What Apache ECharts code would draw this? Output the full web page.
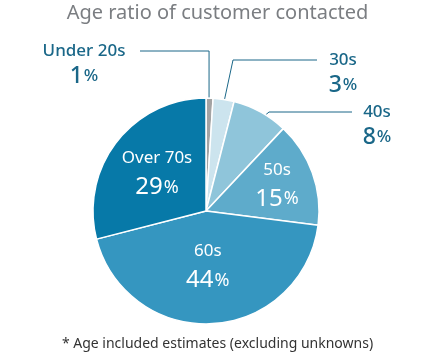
<!DOCTYPE html>
<html>
<head>
<meta charset="utf-8">
<script src="https://cdn.jsdelivr.net/npm/echarts@6/dist/echarts.min.js"></script>
<style>
  html, body { margin: 0; padding: 0; background: #fff; }
  #chart { width: 435px; height: 354px; }
</style>
</head>
<body>
<div id="chart"></div>
<script>
// data
const categories = ['Under 20s', '30s', '40s', '50s', '60s', 'Over 70s'];
const shares = [1, 3, 8, 15, 44, 29];
const sliceColors = ['#a3a3a3', '#cce4ee', '#8fc5da', '#5eabcb', '#3596c0', '#0779a8'];
const outsideIdx = [0, 1, 2];

// pie geometry (px)
const CX = 206, CY = 211, R = 113;
const FONT = '"Noto Sans", sans-serif';
const DARK = '#1a6788';

// where the outside labels sit: text centre x, leader line y, line end x, knee x
const outsidePos = {
  0: { x: 84,  lineY: 51,  endX: 140, kneeX: null },
  1: { x: 343, lineY: 60,  endX: 317, kneeX: 233 },
  2: { x: 377, lineY: 112, endX: 352, kneeX: 269 }
};
// small nudges for the inside labels
const insideShift = {
  '50s': [15, -7],
  '60s': [-2, -5],
  'Over 70s': [-2, -2]
};

const total = shares.reduce((s, v) => s + v, 0);
function midAngle(i) {
  let before = 0;
  for (let k = 0; k < i; k++) before += shares[k];
  return (before + shares[i] / 2) / total * 2 * Math.PI;
}
function polar(r, a) { return [CX + r * Math.sin(a), CY - r * Math.cos(a)]; }

function richFor(color, weight, nameSize, valSize, pctSize, nameLH, valLH) {
  return {
    n: { color, fontFamily: FONT, fontSize: nameSize, fontWeight: weight, lineHeight: nameLH },
    v: { color, fontFamily: FONT, fontSize: valSize, fontWeight: weight, lineHeight: valLH, verticalAlign: 'bottom' },
    // keep the smaller % on the digits' baseline
    p: { color, fontFamily: FONT, fontSize: pctSize, fontWeight: weight, lineHeight: valLH, verticalAlign: 'bottom', padding: [0, 0, 3, 1] }
  };
}

const data = categories.map((name, i) => {
  const outside = outsideIdx.includes(i);
  return {
    name,
    value: shares[i],
    itemStyle: { color: sliceColors[i] },
    label: outside ? {
      position: 'outside',
      rich: richFor(DARK, 500, 17, 23, 17, 22, 26)
    } : {
      position: 'inside',
      rich: richFor('#ffffff', 'normal', 17, 24, 18, 26, 28)
    },
    labelLine: { show: outside, lineStyle: { color: DARK, width: 1 } }
  };
});

const chart = echarts.init(document.getElementById('chart'), null, { renderer: 'canvas' });
chart.setOption({
  animation: false,
  title: {
    text: 'Age ratio of customer contacted',
    left: 'center',
    top: -2,
    textStyle: { color: '#7b7e82', fontFamily: FONT, fontSize: 20, fontWeight: 'normal' }
  },
  graphic: [{
    type: 'text',
    left: 'center',
    top: 337,
    style: {
      text: '* Age included estimates (excluding unknowns)',
      fill: '#333333',
      font: '14px "Noto Sans", sans-serif'
    }
  }],
  series: [{
    type: 'pie',
    center: [CX, CY],
    radius: [0, R],
    startAngle: 90,
    clockwise: true,
    avoidLabelOverlap: false,
    itemStyle: { borderColor: '#ffffff', borderWidth: 1.5 },
    label: {
      show: true,
      formatter: p => `{n|${p.name}}\n{v|${p.value}}{p|%}`,
      align: 'center'
    },
    labelLine: { show: false, length: 10, length2: 10 },
    labelLayout: (params) => {
      const i = params.dataIndex;
      const pos = outsidePos[i];
      if (pos) {
        const a = midAngle(i);
        const start = polar(R * 0.86, a);
        const kneeX = pos.kneeX == null ? start[0] : pos.kneeX;
        return {
          x: pos.x,
          y: pos.lineY + 13,
          align: 'center',
          verticalAlign: 'middle',
          labelLinePoints: [start, [kneeX, pos.lineY], [pos.endX, pos.lineY]]
        };
      }
      const s = insideShift[categories[i]] || [0, 0];
      return { dx: s[0], dy: s[1] };
    },
    data
  }]
});
</script>
</body>
</html>
